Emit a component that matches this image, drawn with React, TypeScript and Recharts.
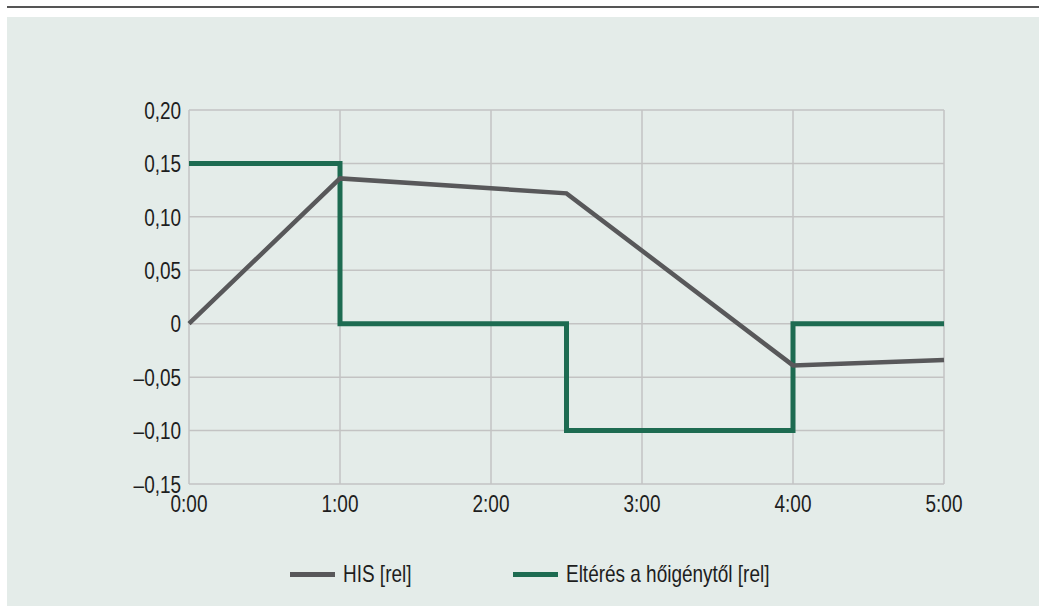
import React from "react";
import { LineChart, Line, XAxis, YAxis, CartesianGrid } from "recharts";

const times = [0, 1, 2.5, 4, 5];
const hisValues = [0, 0.136, 0.122, -0.039, -0.034];
const devValues = [0.15, 0, -0.1, 0, 0];
const xTicks = [0, 1, 2, 3, 4, 5];
const yTicks = [-0.15, -0.1, -0.05, 0, 0.05, 0.1, 0.15, 0.2];
const seriesNames = ["HIS [rel]", "Eltérés a hőigénytől [rel]"];

const data = times.map((t, i) => ({ t, his: hisValues[i], dev: devValues[i] }));

const FONT = '"Liberation Sans", Arial, sans-serif';
const GREY = "#58585a";
const GREEN = "#1d6b51";
const TEXT = "#1e1e1e";
const SX = 0.79;
const FS = 24;

const fmtY = (v: number) => {
  if (Math.abs(v) < 1e-9) return "0";
  const s = Math.abs(v).toFixed(2).replace(".", ",");
  return v < 0 ? "\u2013" + s : s;
};
const fmtX = (v: number) => `${v}:00`;

const YTick = (props: any) => {
  const { x, y, payload } = props;
  return (
    <text
      x={0}
      y={0}
      dy="0.36em"
      transform={`translate(${x},${y}) scale(${SX},1)`}
      textAnchor="end"
      fill={TEXT}
      fontSize={FS}
      fontFamily={FONT}
    >
      {fmtY(payload.value)}
    </text>
  );
};

const XTick = (props: any) => {
  const { x, y, payload } = props;
  return (
    <text
      x={0}
      y={0}
      dy="0.72em"
      transform={`translate(${x},${y}) scale(${SX},1)`}
      textAnchor="middle"
      fill={TEXT}
      fontSize={FS}
      fontFamily={FONT}
    >
      {fmtX(payload.value)}
    </text>
  );
};

const LegendItem = ({ left, color, label }: { left: number; color: string; label: string }) => (
  <div style={{ position: "absolute", left, top: 561, height: 26, display: "flex", alignItems: "center" }}>
    <div style={{ width: 45, height: 5, background: color }} />
    <span
      style={{
        marginLeft: 8,
        fontSize: 24,
        color: TEXT,
        fontFamily: FONT,
        display: "inline-block",
        transform: `scaleX(0.79)`,
        transformOrigin: "left center",
        whiteSpace: "nowrap",
        lineHeight: "26px",
      }}
    >
      {label}
    </span>
  </div>
);

export default function App() {
  return (
    <div style={{ position: "absolute", left: 0, top: 0, width: 1039, height: 606, fontFamily: FONT }}>
      <div style={{ position: "absolute", left: 7, top: 6, width: 1032, height: 2, background: "#555555" }} />
      <div style={{ position: "absolute", left: 7, top: 17, width: 1032, height: 589, background: "#e4ece9" }} />
      <div style={{ position: "absolute", left: 0, top: 0 }}>
        <LineChart width={1039} height={606} data={data} margin={{ top: 110, right: 95, bottom: 92, left: 119 }}>
          <CartesianGrid stroke="#c3c3c3" strokeWidth={1.5} />
          <XAxis
            dataKey="t"
            type="number"
            domain={[0, 5]}
            ticks={xTicks}
            axisLine={false}
            tickLine={false}
            tickSize={0}
            tickMargin={11}
            height={30}
            tick={<XTick />}
            interval={0}
          />
          <YAxis
            type="number"
            domain={[-0.15, 0.2]}
            ticks={yTicks}
            axisLine={false}
            tickLine={false}
            tickSize={0}
            tickMargin={8}
            width={70}
            tick={<YTick />}
            interval={0}
          />
          <Line
            dataKey="dev"
            type="stepAfter"
            stroke={GREEN}
            strokeWidth={5}
            dot={false}
            activeDot={false}
            strokeLinejoin="miter"
            strokeLinecap="butt"
            isAnimationActive={false}
          />
          <Line
            dataKey="his"
            type="linear"
            stroke={GREY}
            strokeWidth={4.5}
            dot={false}
            activeDot={false}
            strokeLinejoin="miter"
            strokeLinecap="butt"
            isAnimationActive={false}
          />
        </LineChart>
      </div>
      <LegendItem left={290} color={GREY} label={seriesNames[0]} />
      <LegendItem left={513} color={GREEN} label={seriesNames[1]} />
    </div>
  );
}
